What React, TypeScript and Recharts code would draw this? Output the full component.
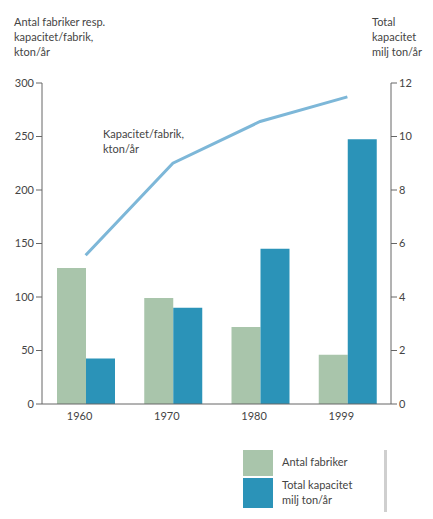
import { ComposedChart, Bar, Line, XAxis, YAxis } from "recharts";

const YEARS = ["1960", "1970", "1980", "1999"];
const ANTAL_FABRIKER = [127, 99, 72, 46];
const TOTAL_KAPACITET = [1.7, 3.6, 5.8, 9.9];
const KAPACITET_PER_FABRIK = [139, 225, 264, 287];
const LEFT_TICKS = [0, 50, 100, 150, 200, 250, 300];
const RIGHT_TICKS = [0, 2, 4, 6, 8, 10, 12];

const LIGHT = "#a9c5ab";
const DARK = "#2b93b8";
const LINE = "#7db7d8";
const AXIS = "#666";
const TEXT = "#444";
const FONT = "Lato, 'Open Sans', sans-serif";

const data = YEARS.map((year, i) => ({
  year,
  antal: ANTAL_FABRIKER[i],
  total: TOTAL_KAPACITET[i],
  perFabrik: KAPACITET_PER_FABRIK[i],
}));

const textStyle: React.CSSProperties = {
  position: "absolute",
  fontFamily: FONT,
  fontSize: 11,
  color: TEXT,
  lineHeight: "15px",
  whiteSpace: "nowrap",
};

export default function App() {
  return (
    <div style={{ position: "absolute", left: 0, top: 0, width: 433, height: 519, background: "#fff", fontFamily: FONT }}>
      <div style={{ ...textStyle, left: 14, top: 14 }}>
        Antal fabriker resp.<br />kapacitet/fabrik,<br />kton/år
      </div>
      <div style={{ ...textStyle, left: 372, top: 14 }}>
        Total<br />kapacitet<br />milj ton/år
      </div>
      <div style={{ ...textStyle, left: 103, top: 126 }}>
        Kapacitet/fabrik,<br />kton/år
      </div>

      <ComposedChart
        width={433}
        height={440}
        data={data}
        margin={{ top: 83, right: 0, bottom: 0, left: 0 }}
        barGap={0}
        style={{ position: "absolute", left: 0, top: 0 }}
      >
        <XAxis
          dataKey="year"
          axisLine={{ stroke: AXIS }}
          tickLine={false}
          tick={{ fill: TEXT, fontSize: 11, fontFamily: FONT, dx: -6 }}
          height={36}
        />
        <YAxis
          yAxisId="left"
          domain={[0, 300]}
          ticks={LEFT_TICKS}
          width={42}
          axisLine={{ stroke: AXIS }}
          tickLine={{ stroke: AXIS }}
          tickSize={6}
          tick={{ fill: TEXT, fontSize: 11, fontFamily: FONT }}
          interval={0}
        />
        <YAxis
          yAxisId="right"
          orientation="right"
          domain={[0, 12]}
          ticks={RIGHT_TICKS}
          width={42}
          axisLine={{ stroke: AXIS }}
          tickLine={{ stroke: AXIS }}
          tickSize={6}
          tick={{ fill: TEXT, fontSize: 11, fontFamily: FONT }}
          interval={0}
        />
        <Bar yAxisId="left" dataKey="antal" fill={LIGHT} barSize={29} isAnimationActive={false} />
        <Bar yAxisId="right" dataKey="total" fill={DARK} barSize={29} isAnimationActive={false} />
        <Line
          yAxisId="left"
          dataKey="perFabrik"
          stroke={LINE}
          strokeWidth={3}
          dot={false}
          type="linear"
          isAnimationActive={false}
        />
      </ComposedChart>

      <div style={{ position: "absolute", left: 243, top: 450, width: 30, height: 26, background: LIGHT }} />
      <div style={{ position: "absolute", left: 243, top: 478, width: 30, height: 30, background: DARK }} />
      <div style={{ ...textStyle, left: 282, top: 454 }}>Antal fabriker</div>
      <div style={{ ...textStyle, left: 282, top: 477 }}>
        Total kapacitet<br />milj ton/år
      </div>
      <div style={{ position: "absolute", left: 384, top: 450, width: 3, height: 62, background: "#cfcfcf" }} />
    </div>
  );
}
